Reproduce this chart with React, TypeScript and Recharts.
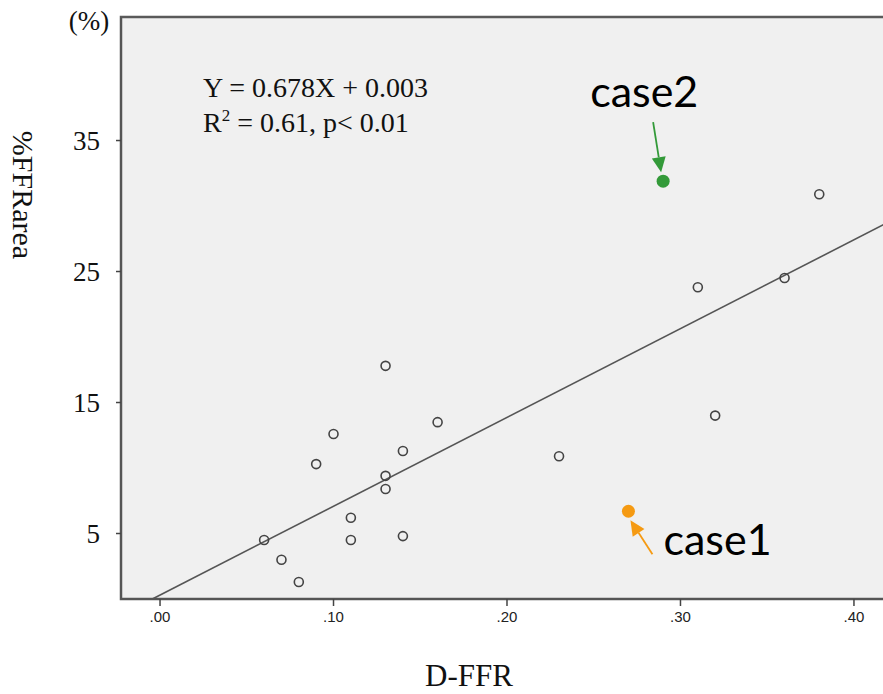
import React from 'react'
import {
  ScatterChart,
  Scatter,
  XAxis,
  YAxis,
  ReferenceArea,
  ReferenceLine,
} from 'recharts'

// D-FFR (x) vs %FFRarea (y)
const dffr = [0.06, 0.07, 0.08, 0.09, 0.1, 0.11, 0.11, 0.13, 0.13, 0.13, 0.14, 0.14, 0.16, 0.23, 0.31, 0.32, 0.36, 0.38]
const ffrArea = [4.5, 3.0, 1.3, 10.3, 12.6, 6.2, 4.5, 17.8, 9.4, 8.4, 11.3, 4.8, 13.5, 10.9, 23.8, 14.0, 24.5, 30.9]

const caseNames = ['case1', 'case2']
const caseDffr = [0.27, 0.29]
const caseArea = [6.7, 31.9]

const xTicks = [0, 0.1, 0.2, 0.3, 0.4]
const yTicks = [5, 15, 25, 35]

// Y = 0.678X + 0.003 (fractions) -> percent scale
const fitSlope = 67.8
const fitIntercept = 0.3

const xDomain: [number, number] = [-0.0225, 0.4202]
const yDomain: [number, number] = [0, 44.43]

const caseStyle: Record<string, { color: string; lx: number; ly: number; ax1: number; ay1: number; ax2: number; ay2: number }> = {
  case1: { color: '#f59a12', lx: 35, ly: 44, ax1: 24, ay1: 43, ax2: 2, ay2: 9 },
  case2: { color: '#339a39', lx: -73, ly: -74, ax1: -10, ay1: -59, ax2: -2, ay2: -9 },
}

const points = dffr.map((x, i) => ({ x, y: ffrArea[i] }))
const cases = caseNames.map((name, i) => ({ name, x: caseDffr[i], y: caseArea[i] }))

const fitX0 = -fitIntercept / fitSlope
const fitSegment = [
  { x: fitX0, y: 0 },
  { x: xDomain[1], y: fitSlope * xDomain[1] + fitIntercept },
]

const serif = '"Liberation Serif", "Times New Roman", serif'

function OpenDot(props: any) {
  const { cx, cy } = props
  return <circle cx={cx} cy={cy} r={4.5} fill="none" stroke="#444" strokeWidth={1.6} />
}

function CaseDot(props: any) {
  const { cx, cy, payload } = props
  const s = caseStyle[payload.name]
  const x1 = cx + s.ax1
  const y1 = cy + s.ay1
  const x2 = cx + s.ax2
  const y2 = cy + s.ay2
  const ang = Math.atan2(y2 - y1, x2 - x1)
  const len = 15
  const half = 7
  const bx = x2 - len * Math.cos(ang)
  const by = y2 - len * Math.sin(ang)
  const px = -Math.sin(ang) * half
  const py = Math.cos(ang) * half
  return (
    <g>
      <circle cx={cx} cy={cy} r={6.5} fill={s.color} />
      <line x1={x1} y1={y1} x2={bx} y2={by} stroke={s.color} strokeWidth={1.8} />
      <polygon points={`${x2},${y2} ${bx + px},${by + py} ${bx - px},${by - py}`} fill={s.color} />
      <text x={cx + s.lx} y={cy + s.ly} fontFamily="Lato, 'Open Sans', sans-serif" fontSize={43} fill="#000">
        {payload.name}
      </text>
    </g>
  )
}

export default function App() {
  return (
    <div style={{ position: 'absolute', left: 0, top: 0, width: 883, height: 694, overflow: 'hidden', background: '#fff' }}>
      <ScatterChart width={900} height={694} margin={{ top: 17, right: 11, bottom: 0, left: 61 }}>
        <XAxis
          type="number"
          dataKey="x"
          domain={xDomain}
          allowDataOverflow
          ticks={xTicks}
          tickFormatter={(v: number) => v.toFixed(2).replace(/^0/, '')}
          height={95}
          tickSize={7}
          tickMargin={5}
          axisLine={{ stroke: '#555', strokeWidth: 2 }}
          tickLine={{ stroke: '#444', strokeWidth: 1.5 }}
          tick={{ fill: '#222', fontSize: 15, fontFamily: '"Liberation Sans", Arial, sans-serif' }}
        />
        <YAxis
          type="number"
          dataKey="y"
          domain={yDomain}
          allowDataOverflow
          ticks={yTicks}
          width={60}
          tickSize={5}
          tickMargin={16}
          axisLine={{ stroke: '#555', strokeWidth: 2 }}
          tickLine={{ stroke: '#444', strokeWidth: 1.5 }}
          tick={{ fill: '#111', fontSize: 27, fontFamily: serif }}
        />
        <ReferenceArea
          x1={xDomain[0]}
          x2={xDomain[1]}
          y1={yDomain[0]}
          y2={yDomain[1]}
          fill="#f0f0f0"
          fillOpacity={1}
          stroke="#5a5a5a"
          strokeWidth={2.5}
          ifOverflow="visible"
        />
        <ReferenceLine segment={fitSegment} stroke="#555" strokeWidth={1.6} ifOverflow="visible" />
        <Scatter data={points} shape={<OpenDot />} isAnimationActive={false} />
        <Scatter data={cases} shape={<CaseDot />} isAnimationActive={false} />
      </ScatterChart>
      <svg width={883} height={694} style={{ position: 'absolute', left: 0, top: 0, pointerEvents: 'none' }}>
        <text x={89} y={30} textAnchor="middle" fontFamily={serif} fontSize={27} fill="#111">
          (%)
        </text>
        <text
          x={13}
          y={195}
          textAnchor="middle"
          fontFamily={serif}
          fontSize={30}
          fill="#111"
          transform="rotate(90, 13, 195)"
        >
          %FFRarea
        </text>
        <text x={469} y={686} textAnchor="middle" fontFamily={serif} fontSize={31} fill="#111">
          D-FFR
        </text>
        <text x={203} y={97} fontFamily={serif} fontSize={28} fill="#111">
          Y = 0.678X + 0.003
        </text>
        <text x={203} y={132} fontFamily={serif} fontSize={28} fill="#111">
          R<tspan fontSize={17} dy={-11}>2</tspan>
          <tspan dy={11}> = 0.61, p&lt; 0.01</tspan>
        </text>
      </svg>
    </div>
  )
}
